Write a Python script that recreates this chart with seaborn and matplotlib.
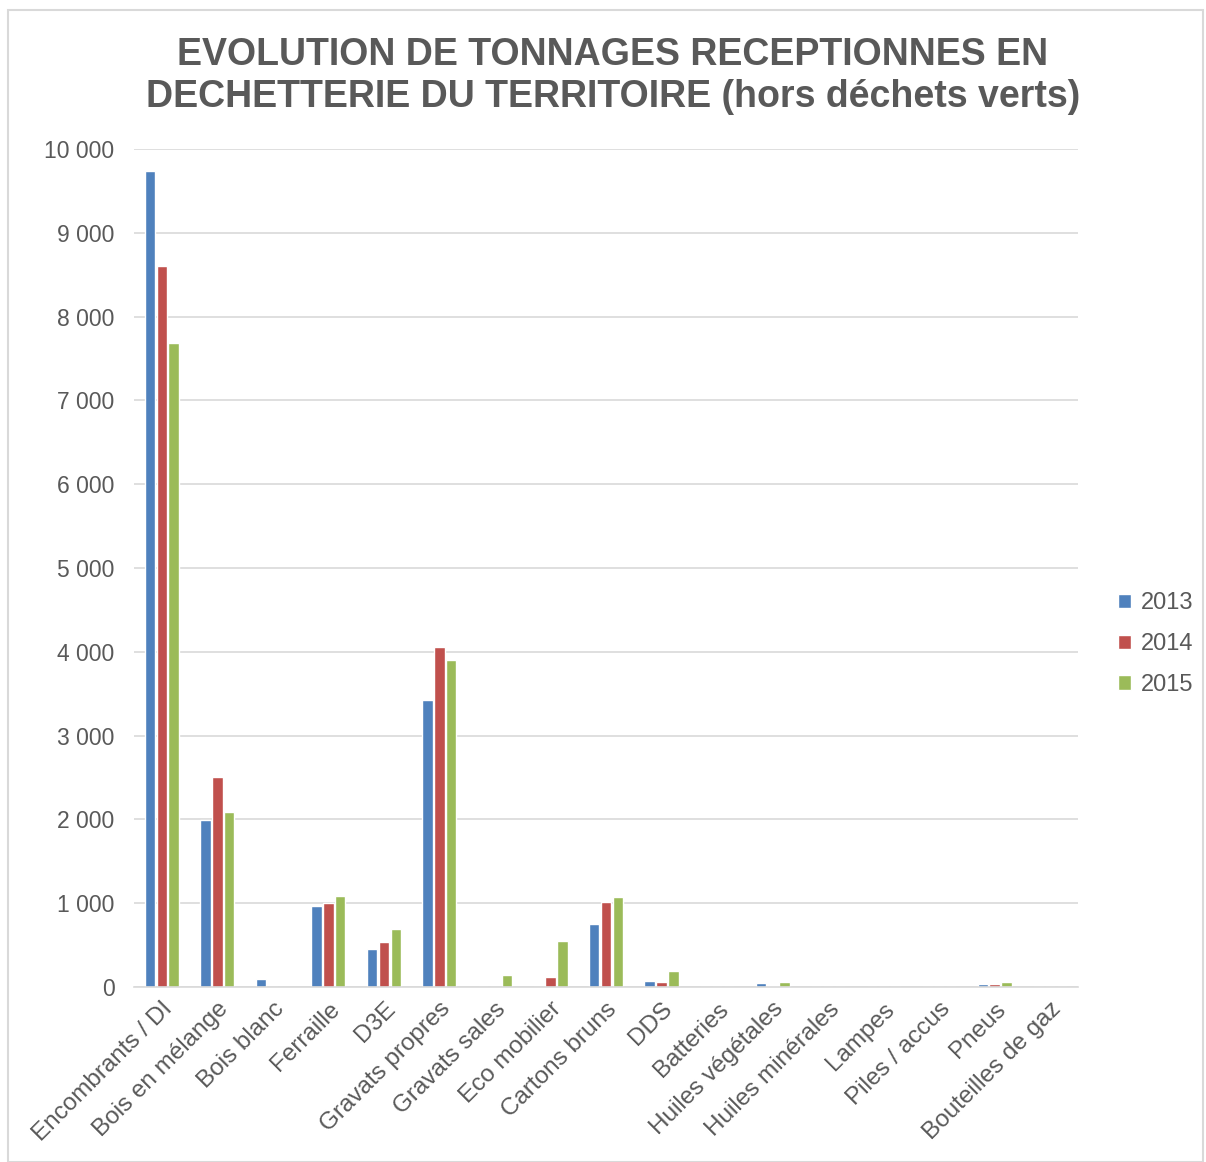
import numpy as np
import pandas as pd
import matplotlib
matplotlib.use("Agg")
import matplotlib.pyplot as plt
from matplotlib.patches import Rectangle, Patch
from matplotlib.ticker import FuncFormatter
import seaborn as sns

# -------------------------------
# Data (tonnes)
# -------------------------------
categories = [
    "Encombrants / DI", "Bois en mélange", "Bois blanc", "Ferraille", "D3E",
    "Gravats propres", "Gravats sales", "Eco mobilier", "Cartons bruns", "DDS",
    "Batteries", "Huiles végétales", "Huiles minérales", "Lampes",
    "Piles / accus", "Pneus", "Bouteilles de gaz",
]
years = ["2013", "2014", "2015"]
t2013 = [9740, 1990, 90, 967, 450, 3425, 0, 0, 748, 72, 0, 50, 0, 0, 0, 30, 3]
t2014 = [8600, 2510, 0, 1000, 533, 4057, 0, 116, 1014, 56, 0, 8, 0, 0, 0, 35, 3]
t2015 = [7690, 2090, 0, 1082, 689, 3902, 143, 545, 1078, 195, 0, 65, 0, 0, 0, 60, 3]
colors = ["#4F81BD", "#C0504D", "#9BBB59"]

df = pd.DataFrame({"Catégorie": categories, "2013": t2013, "2014": t2014, "2015": t2015})
long_df = df.melt(id_vars="Catégorie", var_name="Année", value_name="Tonnes")

# -------------------------------
# Plot
# -------------------------------
sns.set_style("white")
plt.rcParams["font.family"] = ["Liberation Sans", "DejaVu Sans"]

fig = plt.figure(figsize=(12.06, 11.62), dpi=100)
ax = fig.add_axes([134 / 1206, 1 - 987 / 1162, 944 / 1206, 838 / 1162])

sns.barplot(data=long_df, x="Catégorie", y="Tonnes", hue="Année",
            palette=colors, width=0.64, gap=0.12, ax=ax, legend=False,
            saturation=1)

ax.set_xlim(-0.5, len(categories) - 0.5)
ax.set_ylim(0, 10000)
ax.set_yticks(np.arange(0, 10001, 1000))
ax.yaxis.set_major_formatter(FuncFormatter(lambda v, p: f"{int(v):,}".replace(",", " ")))
ax.grid(axis="y", color="#D9D9D9", linewidth=1.2)
ax.set_axisbelow(True)
for s in ["top", "right", "left"]:
    ax.spines[s].set_visible(False)
ax.spines["bottom"].set_color("#D9D9D9")
ax.spines["bottom"].set_linewidth(1.2)
ax.set_xlabel("")
ax.set_ylabel("")
ax.tick_params(axis="y", length=0, labelsize=16.5, colors="#595959", pad=14)
ax.tick_params(axis="x", length=0, labelsize=17.5, colors="#595959", pad=8)
plt.setp(ax.get_xticklabels(), rotation=45, ha="right", rotation_mode="anchor")

fig.text(0.508, 0.968, "EVOLUTION DE TONNAGES RECEPTIONNES EN\nDECHETTERIE DU TERRITOIRE (hors déchets verts)",
         ha="center", va="top", fontsize=27, fontweight="bold", color="#595959",
         linespacing=1.2)

handles = [Patch(facecolor=c, label=y) for c, y in zip(colors, years)]
fig.legend(handles=handles, loc="center left", bbox_to_anchor=(1118 / 1206, 1 - 644 / 1162),
           frameon=False, fontsize=17, labelcolor="#595959", handlelength=0.55,
           handleheight=0.55, handletextpad=0.4, labelspacing=0.8, borderpad=0,
           borderaxespad=0)

fig.patches.append(Rectangle((8 / 1206, 0), 1195 / 1206, 1 - 10 / 1162,
                             transform=fig.transFigure, fill=False,
                             edgecolor="#D9D9D9", linewidth=1.5))

fig.savefig("out.png", dpi=100)
